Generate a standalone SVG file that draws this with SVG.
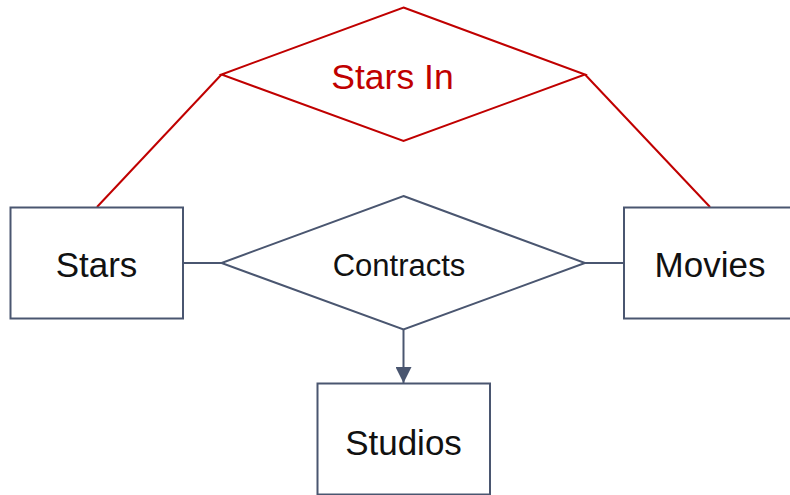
<svg xmlns="http://www.w3.org/2000/svg" width="790" height="495" viewBox="0 0 790 495">
<defs>
<style>
.ent{fill:#fff;stroke:#4a5670;stroke-width:2}
.rel{fill:#fff;stroke:#4a5670;stroke-width:2}
.relr{fill:#fff;stroke:#c00000;stroke-width:2}
.ln{fill:none;stroke:#4a5670;stroke-width:2}
.lnr{fill:none;stroke:#c00000;stroke-width:2}
.t{font-family:"Liberation Sans",Arial,sans-serif;font-size:35px;fill:#111;text-anchor:middle}
.tr{fill:#c00000;font-size:35.5px}
.ts{font-size:31px}
</style>
<marker id="arr" markerWidth="16" markerHeight="16" refX="16" refY="8" orient="auto" markerUnits="userSpaceOnUse">
<path d="M0,0 L16,8 L0,16 Z" fill="#4a5670"/>
</marker>
</defs>
<rect width="790" height="495" fill="#fff"/>
<g id="connectors">
<path class="lnr" d="M97,207 L221.5,74.5"/>
<path class="lnr" d="M585,74.5 L710,207"/>
<path class="ln" d="M183,263 L221.5,263"/>
<path class="ln" d="M585,263 L624,263"/>
<path class="ln" d="M403.5,329.5 L403.5,383" marker-end="url(#arr)"/>
</g>
<g id="stars-in">
<polygon class="relr" points="403.5,7.5 585,74.5 403.5,141 221.5,74.5"/>
<text class="t tr" x="392.5" y="89">Stars In</text>
</g>
<g id="stars">
<rect class="ent" x="10.5" y="207.5" width="172.5" height="111"/>
<text class="t" x="96.5" y="277">Stars</text>
</g>
<g id="movies">
<rect class="ent" x="624" y="207.5" width="172.5" height="111"/>
<text class="t" x="710" y="277">Movies</text>
</g>
<g id="contracts">
<polygon class="rel" points="403.5,196 585,263 403.5,329.5 221.5,263"/>
<text class="t ts" x="399" y="276">Contracts</text>
</g>
<g id="studios">
<rect class="ent" x="317.5" y="383.5" width="172.5" height="111"/>
<text class="t" x="403.5" y="455">Studios</text>
</g>
</svg>
